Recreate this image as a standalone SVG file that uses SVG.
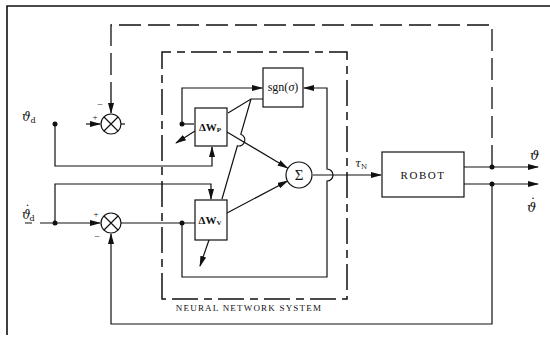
<svg xmlns="http://www.w3.org/2000/svg" width="550" height="342" viewBox="0 0 550 342">
<defs>
<marker id="ah" markerUnits="userSpaceOnUse" markerWidth="11" markerHeight="6" refX="10" refY="3" orient="auto">
<path d="M0,0 L11,3 L0,6 z" fill="#111"/>
</marker>
<style>
.ln{fill:none;stroke:#111;stroke-width:1.2}
.thk{fill:none;stroke:#111;stroke-width:1.6}
.dash{fill:none;stroke:#111;stroke-width:1.3;stroke-dasharray:22 7}
.dash2{fill:none;stroke:#111;stroke-width:1.5;stroke-dasharray:26 6 8 6}
.box{fill:#fff;stroke:#111;stroke-width:1.2}
.dot{fill:#111}
.t{font-family:"Liberation Serif","DejaVu Serif",serif;fill:#111}
.g{font-family:"DejaVu Serif","Liberation Serif",serif;font-style:italic;fill:#111}
</style>
</defs>
<rect width="550" height="342" fill="#fff"/>
<g id="frame">
<path class="thk" d="M7,335 V6 H550"/>
</g>
<g id="nn-system">
<path class="dash2" d="M162,299 V52 H347 V299 Z"/>
<text class="t" x="249" y="311" font-size="9" letter-spacing="1.2" text-anchor="middle">NEURAL NETWORK SYSTEM</text>
</g>
<g id="connectors">
<path class="dash" d="M492,167 V25 H111 V107"/>
<path class="ln" d="M111,104 V113" marker-end="url(#ah)"/>
<path class="ln" d="M86,124 H100" marker-end="url(#ah)"/>
<path class="ln" d="M121,124 H125"/>
<path class="ln" d="M55,124 V166 H212 V147" marker-end="url(#ah)"/>
<path class="ln" d="M25,223 H32 M40,223 H100" marker-end="url(#ah)"/>
<path class="ln" d="M55,223 V184 H211 V199" marker-end="url(#ah)"/>
<path class="ln" d="M121,223 H195"/>
<path class="ln" d="M492,184 V324 H111 V234" marker-end="url(#ah)"/>
<path class="ln" d="M182,124 H194"/>
<path class="ln" d="M182,124 V88 H262" marker-end="url(#ah)"/>
<path class="ln" d="M182,223 V277 H327 V181 A6,6 0 0 0 327,169 V88 H304" marker-end="url(#ah)"/>
<path class="ln" d="M263,99 H251 L228,113"/>
<path class="ln" d="M251,99 L240.8,134.3 A6,6 0 0 1 237.4,145.8 L222,199"/>
<path class="ln" d="M227,132 L287.5,168" marker-end="url(#ah)"/>
<path class="ln" d="M227,213 L287.5,181" marker-end="url(#ah)"/>
<path class="ln" d="M313,175 H381" marker-end="url(#ah)"/>
<path class="ln" d="M195,131 L176,143" marker-end="url(#ah)"/>
<path class="ln" d="M209,240 L200,266" marker-end="url(#ah)"/>
<path class="ln" d="M464,167 H538" marker-end="url(#ah)"/>
<path class="ln" d="M464,184 H538" marker-end="url(#ah)"/>
<circle class="dot" cx="55" cy="124" r="2.5"/>
<circle class="dot" cx="55" cy="223" r="2.5"/>
<circle class="dot" cx="182" cy="124" r="2.5"/>
<circle class="dot" cx="182" cy="223" r="2.5"/>
<circle class="dot" cx="492" cy="167" r="2.5"/>
<circle class="dot" cx="492" cy="184" r="2.5"/>
</g>
<g id="sum-upper">
<circle class="box" cx="111" cy="124" r="10"/>
<path class="ln" d="M104,117 L118,131 M118,117 L104,131"/>
<text class="t" x="100" y="108" font-size="10" text-anchor="middle">−</text>
<text class="t" x="95" y="120" font-size="9" text-anchor="middle">+</text>
</g>
<g id="sum-lower">
<circle class="box" cx="111" cy="223" r="10"/>
<path class="ln" d="M104,216 L118,230 M118,216 L104,230"/>
<text class="t" x="96" y="217" font-size="9" text-anchor="middle">+</text>
<text class="t" x="97" y="240" font-size="10" text-anchor="middle">−</text>
</g>
<g id="dwp">
<rect class="box" x="195" y="108" width="32" height="38"/>
<text class="t" x="210" y="131" font-size="11" font-weight="bold" text-anchor="middle">ΔW<tspan font-size="7" dy="1">P</tspan></text>
</g>
<g id="dwv">
<rect class="box" x="195" y="200" width="32" height="40"/>
<text class="t" x="210" y="224" font-size="11" font-weight="bold" text-anchor="middle">ΔW<tspan font-size="7" dy="1">V</tspan></text>
</g>
<g id="sgn">
<rect class="box" x="263" y="68" width="40" height="39"/>
<text class="t" x="283" y="91" font-size="12" text-anchor="middle">sgn(<tspan font-style="italic">σ</tspan>)</text>
</g>
<g id="sigma">
<ellipse class="box" cx="299" cy="175" rx="13" ry="13"/>
<text class="t" x="299" y="180" font-size="15" text-anchor="middle">Σ</text>
</g>
<g id="robot">
<rect class="box" x="382" y="152" width="82" height="45"/>
<text class="t" x="423" y="179" font-size="11" letter-spacing="1.5" text-anchor="middle">ROBOT</text>
</g>
<g id="labels">
<text class="g" x="22" y="121" font-size="12">ϑ<tspan font-size="8" font-style="normal" dy="2">d</tspan></text>
<text class="g" x="22" y="219" font-size="12">ϑ<tspan font-style="normal" dx="-6" dy="-4">˙</tspan><tspan font-size="8" font-style="normal" dx="-1" dy="6">d</tspan></text>
<text class="g" x="355" y="167" font-size="11">τ<tspan font-size="7" font-style="normal" dy="2">N</tspan></text>
<text class="g" x="530" y="160" font-size="13">ϑ</text>
<text class="g" x="527" y="212" font-size="13">ϑ<tspan font-style="normal" dx="-6.5" dy="-4">˙</tspan></text>
</g>
</svg>
